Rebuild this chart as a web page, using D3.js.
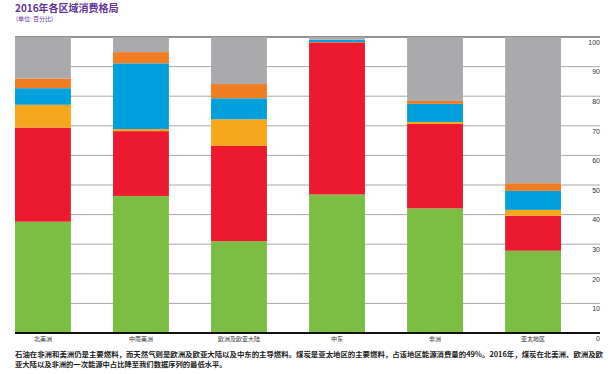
<!DOCTYPE html>
<html><head><meta charset="utf-8">
<script src="https://cdn.jsdelivr.net/npm/d3@7"></script>
<style>
html,body{margin:0;padding:0;background:#fff;}
svg{display:block;font-family:"Noto Sans CJK SC","Noto Sans",sans-serif;}
</style></head>
<body>
<svg id="c" width="615" height="374"></svg>
<script>
const categories = ["北美洲","中南美洲","欧洲及欧亚大陆","中东","非洲","亚太地区"];
const oil      = [37.6, 46.3, 31.0, 46.8, 42.1, 27.8];
const gas      = [31.8, 21.9, 32.2, 51.4, 28.5, 11.8];
const nuclear  = [7.7, 0.7, 9.0, 0.1, 0.7, 2.0];
const hydro    = [5.6, 22.2, 7.1, 0.7, 6.1, 6.4];
const renew    = [3.3, 3.8, 4.8, 0.1, 1.0, 2.6];
const coal     = [14.0, 5.1, 15.9, 0.9, 21.6, 49.4];
const yTicks   = [0,10,20,30,40,50,60,70,80,90,100];
const seriesKeys = ["oil","gas","nuclear","hydro","renew","coal"];
const colors = {oil:"#7BBE43", gas:"#EC1A2E", nuclear:"#F7A71C", hydro:"#00A0DD", renew:"#F07D22", coal:"#AAAAAD"};

const title = "2016年各区域消费格局";
const subtitle = "(单位: 百分比)";
const note1 = "石油在非洲和美洲仍是主要燃料，而天然气则是欧洲及欧亚大陆以及中东的主导燃料。煤炭是亚太地区的主要燃料，占该地区能源消费量的49%。2016年，煤炭在北美洲、欧洲及欧";
const note2 = "亚大陆以及非洲的一次能源中占比降至我们数据序列的最低水平。";

const rows = categories.map((c,i)=>({cat:c, oil:oil[i], gas:gas[i], nuclear:nuclear[i], hydro:hydro[i], renew:renew[i], coal:coal[i]}));
const stack = d3.stack().keys(seriesKeys)(rows);

const svg = d3.select("#c");
const x = d3.scaleBand().domain(categories).range([15, 561]).paddingInner(0.43).paddingOuter(0);
const y = d3.scaleLinear().domain([0,100]).range([333, 37]);

// gridlines
svg.append("g").selectAll("line").data(yTicks.filter(t=>t>0)).join("line")
  .attr("x1",15).attr("x2",600)
  .attr("y1",d=>y(d)).attr("y2",d=>y(d))
  .attr("stroke",d=>d===100?"#6d6d6d":"#a8a8a8")
  .attr("stroke-width",d=>d===100?1.5:1);

// bars
svg.append("g").selectAll("g").data(stack).join("g")
  .attr("fill",d=>colors[d.key])
  .selectAll("rect").data(d=>d).join("rect")
  .attr("x",d=>x(d.data.cat))
  .attr("width",x.bandwidth())
  .attr("y",d=>y(d[1]))
  .attr("height",d=>y(d[0])-y(d[1]));

// baseline
svg.append("line").attr("x1",15).attr("x2",600).attr("y1",y(0)).attr("y2",y(0))
  .attr("stroke","#111").attr("stroke-width",2);

// y tick labels
svg.append("g").selectAll("text").data(yTicks).join("text")
  .attr("x",600).attr("y",d=>y(d)+6)
  .attr("text-anchor","end").attr("dominant-baseline","middle")
  .attr("font-size",7).attr("fill","#333")
  .attr("font-family","Liberation Sans, Arial, sans-serif")
  .text(d=>d);

// x labels
svg.append("g").selectAll("text").data(categories).join("text")
  .attr("x",d=>x(d)+x.bandwidth()/2).attr("y",339.5)
  .attr("text-anchor","middle").attr("dominant-baseline","middle")
  .attr("font-size",6).attr("fill","#333")
  .text(d=>d);

// title
svg.append("text").attr("x",15).attr("y",12)
  .attr("font-size",10).attr("font-weight","bold").attr("fill","#63339A")
  .text(title);
svg.append("text").attr("x",16).attr("y",21)
  .attr("font-size",6).attr("fill","#63339A")
  .text(subtitle);

// notes
svg.append("text").attr("x",15).attr("y",357)
  .attr("font-size",7.3).attr("font-weight","bold").attr("fill","#222")
  .attr("textLength",588).attr("lengthAdjust","spacingAndGlyphs")
  .text(note1);
svg.append("text").attr("x",15).attr("y",367)
  .attr("font-size",7.3).attr("font-weight","bold").attr("fill","#222")
  .text(note2);
</script>
</body></html>
